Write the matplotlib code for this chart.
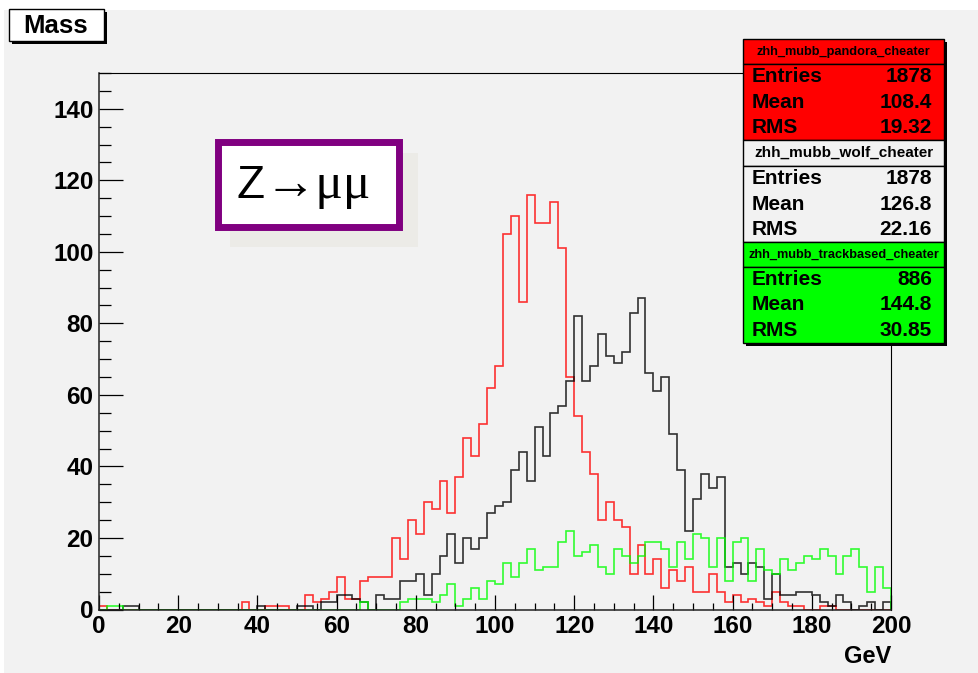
import numpy as np
import matplotlib.pyplot as plt
from matplotlib.patches import Rectangle
from matplotlib.ticker import MultipleLocator

plt.rcParams['font.family'] = ['Liberation Sans', 'DejaVu Sans']
plt.rcParams['font.weight'] = 'bold'

W, H = 979, 673

# 100 bins of 2 GeV from 0 to 200
edges = np.arange(0, 202, 2)

pandora = [1, 0, 0, 0, 0, 0, 0, 0, 0, 0,
           0, 0, 0, 0, 0, 0, 0, 0, 2, 0,
           0, 1, 1, 1, 0, 0, 4, 2, 3, 5,
           9, 3, 3, 8, 9, 9, 9, 20, 14, 25,
           21, 30, 28, 36, 27, 37, 48, 43, 52, 62,
           68, 105, 110, 86, 116, 108, 108, 114, 101, 65,
           54, 44, 38, 25, 30, 25, 23, 10, 18, 10,
           14, 6, 11, 8, 12, 5, 5, 10, 5, 2,
           4, 2, 3, 2, 1, 5, 2, 1, 1, 0,
           0, 1, 1, 0, 0, 0, 0, 0, 0, 0]

wolf = [0, 0, 0, 1, 1, 0, 0, 0, 0, 0,
        0, 0, 0, 0, 0, 0, 0, 0, 0, 0,
        1, 0, 0, 0, 0, 1, 1, 0, 2, 2,
        4, 4, 3, 2, 0, 4, 3, 3, 8, 8,
        10, 4, 10, 15, 21, 13, 20, 17, 20, 27,
        29, 30, 39, 44, 36, 51, 43, 55, 57, 64,
        82, 64, 68, 77, 71, 69, 72, 83, 87, 66,
        61, 65, 49, 39, 22, 31, 38, 34, 37, 12,
        13, 10, 13, 12, 3, 10, 4, 4, 5, 5,
        4, 2, 1, 4, 2, 0, 1, 2, 0, 2]

trackbased = [0, 1, 1, 0, 0, 0, 0, 0, 0, 0,
              0, 0, 0, 0, 0, 0, 0, 0, 0, 0,
              0, 0, 0, 0, 0, 0, 0, 0, 0, 0,
              0, 0, 0, 2, 0, 0, 0, 0, 2, 3,
              3, 3, 2, 4, 7, 1, 3, 6, 3, 8,
              7, 13, 9, 13, 17, 11, 12, 12, 19, 22,
              15, 16, 18, 12, 10, 17, 15, 13, 15, 19,
              19, 17, 12, 19, 14, 21, 20, 12, 20, 8,
              19, 20, 8, 17, 11, 10, 14, 11, 13, 15,
              14, 17, 15, 10, 15, 17, 12, 5, 12, 6]

hist_names = ['zhh_mubb_pandora_cheater', 'zhh_mubb_wolf_cheater', 'zhh_mubb_trackbased_cheater']
hist_colors = ['#ff0000', '#000000', '#00ff00']
box_colors = ['#ff0000', '#f2f2f2', '#00ff00']
entries = ['1878', '1878', '886']
means = ['108.4', '126.8', '144.8']
rms = ['19.32', '22.16', '30.85']

fig = plt.figure(figsize=(W / 100, H / 100), dpi=100, facecolor='#f2f2f2')


def frect(x0, y0, x1, y1, **kw):
    # rectangle given in pixel coords (origin top-left)
    r = Rectangle((x0 / W, 1 - y1 / H), (x1 - x0) / W, (y1 - y0) / H,
                  transform=fig.transFigure, **kw)
    fig.patches.append(r)
    return r


def ftext(x, y, s, **kw):
    return fig.text(x / W, 1 - y / H, s, **kw)


# white strips at top / left edge of the canvas
frect(0, 0, W, 10, facecolor='white', edgecolor='none', zorder=-1)
frect(0, 0, 4, H, facecolor='white', edgecolor='none', zorder=-1)

ax = fig.add_axes([99 / W, 1 - 609.5 / H, 792 / W, 536.5 / H])
ax.set_facecolor('#f2f2f2')

for vals, col in zip([pandora, wolf, trackbased], hist_colors):
    ax.stairs(vals, edges, color=col, linewidth=1.2, alpha=0.8)

ax.set_xlim(0, 200)
ax.set_ylim(0, 150)
ax.xaxis.set_major_locator(MultipleLocator(20))
ax.xaxis.set_minor_locator(MultipleLocator(5))
ax.yaxis.set_major_locator(MultipleLocator(20))
ax.yaxis.set_minor_locator(MultipleLocator(5))
ax.set_yticks(np.arange(0, 141, 20))

ax.tick_params(axis='y', which='major', direction='in', length=17, width=0.9, labelsize=17.5, pad=4)
ax.tick_params(axis='y', which='minor', direction='in', length=8.6, width=0.9)
ax.tick_params(axis='x', which='major', direction='in', length=11, width=0.9, labelsize=17.5, pad=4)
ax.tick_params(axis='x', which='minor', direction='in', length=5.4, width=0.9)
for s in ['top', 'right']:
    ax.spines[s].set_linewidth(0.8)
for s in ['left', 'bottom']:
    ax.spines[s].set_linewidth(1.1)
    ax.spines[s].set_color('#222222')

ftext(891, 663, 'GeV', ha='right', va='baseline', fontsize=17, fontweight='bold')

# title box "Mass"
frect(12, 12, 107, 44, facecolor='black', edgecolor='none', zorder=5)
frect(9, 9, 104, 41, facecolor='white', edgecolor='black', linewidth=1.0, zorder=6)
ftext(56, 26, 'Mass', ha='center', va='center', fontsize=18.5, fontweight='bold', zorder=7)

# Z->mumu label
frect(230, 153, 418, 247, facecolor='#ecebe7', edgecolor='none', zorder=5)
frect(218.5, 141.5, 398.5, 226.5, facecolor='white', edgecolor='#800080', linewidth=5.0, zorder=6)
ftext(237, 198, 'Z', ha='left', va='baseline', fontsize=33, fontweight='normal',
      family=['Liberation Sans', 'DejaVu Sans'], zorder=7)
ftext(265, 198, '\u2192\u03bc\u03bc', ha='left', va='baseline', fontsize=37, fontweight='normal',
      family=['Liberation Serif', 'DejaVu Serif'], zorder=7)

# stats boxes
bands = [(39, 64, 140), (140, 166, 242), (242, 267, 343)]
title_sizes = [9.2, 11, 9.2]
frect(746, 42, 947, 346, facecolor='black', edgecolor='none', zorder=5)
for i, (t0, t1, t2) in enumerate(bands):
    frect(743, t0, 944, t1, facecolor=box_colors[i], edgecolor='black', linewidth=1.0, zorder=6)
    frect(743, t1, 944, t2, facecolor=box_colors[i], edgecolor='black', linewidth=1.0, zorder=6)
    ftext(843.5, (t0 + t1) / 2, hist_names[i], ha='center', va='center',
          fontsize=title_sizes[i], fontweight='bold', zorder=7)
    h = t2 - t1
    rows = [('Entries', entries[i]), ('Mean', means[i]), ('RMS', rms[i])]
    for j, (lab, val) in enumerate(rows):
        y = t1 + h * (2 * j + 1) / 6
        ftext(752, y, lab, ha='left', va='center', fontsize=15, fontweight='bold', zorder=7)
        ftext(932, y, val, ha='right', va='center', fontsize=15, fontweight='bold', zorder=7)

fig.savefig('out.png', dpi=100, facecolor=fig.get_facecolor())
